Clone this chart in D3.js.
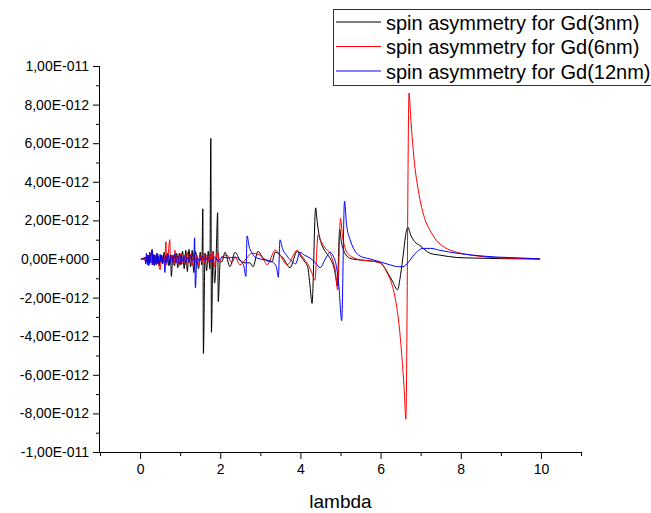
<!DOCTYPE html>
<html>
<head>
<meta charset="utf-8">
<script src="https://cdn.jsdelivr.net/npm/d3@7"></script>
<style>
  html, body { margin: 0; padding: 0; background: #fff; }
  svg { display: block; font-family: Arial, "Liberation Sans", sans-serif; }
</style>
</head>
<body>
<svg id="chart" width="651" height="513"></svg>
<script>
// ---- data (values in units of 1E-12) ----
const UNIT = 1e-12;
const seriesNames = ["spin asymmetry for Gd(3nm)", "spin asymmetry for Gd(6nm)", "spin asymmetry for Gd(12nm)"];
const seriesColors = ["#000000", "#ff0000", "#0000ff"];

const lambda3 = [0.02,0.10,0.14,0.17,0.20,0.23,0.26,0.30,0.32,0.36,0.40,0.44,0.48,0.52,0.56,0.60,0.64,0.68,0.72,0.76,0.78,0.82,0.86,0.90,0.94,0.98,1.02,1.06,1.10,1.14,1.18,1.22,1.26,1.30,1.34,1.38,1.42,1.46,1.50,1.54,1.565,1.58,1.62,1.66,1.70,1.74,1.765,1.78,1.82,1.86,1.90,1.935,1.95,2.00,2.04,2.12,2.24,2.37,2.49,2.62,2.74,2.82,2.94,3.07,3.29,3.37,3.57,3.74,3.92,4.02,4.11,4.18,4.24,4.29,4.38,4.42,4.47,4.54,4.65,4.75,4.83,4.88,4.92,4.98,5.02,5.08,5.16,5.30,5.49,5.74,5.99,6.10,6.20,6.31,6.42,6.50,6.57,6.63,6.68,6.75,6.85,6.98,7.23,7.48,7.90,8.30,9.00,9.98];
const asym3   = [0,0,0.1,-0.15,0.2,-0.25,0.15,0.45,-0.3,0.2,-0.3,0.25,-0.35,0.2,-0.25,0.35,-0.2,0.3,-0.35,0.25,-0.9,0.2,-0.35,0.3,-0.45,0.3,-0.3,0.4,-0.5,0.45,-0.65,0.5,-0.4,0.45,-0.7,0.4,0.0,-0.5,0.35,-0.3,2.6,-4.9,0.3,-0.6,0.4,-0.5,6.25,-3.8,0.4,-1.25,0.3,2.4,-2.2,-0.1,-0.15,0.35,-0.4,0.35,-0.05,-0.2,-0.2,-0.4,0.4,0.05,-0.15,0.35,0.05,-0.45,0.4,0.1,-0.15,-0.4,-1.4,-2.3,2.65,1.9,1.2,0.7,0.3,0.0,-0.4,-0.9,-1.4,1.55,0.9,0.45,0.15,0.0,-0.05,-0.1,-0.2,-0.45,-0.8,-1.2,-1.6,-0.8,0.3,1.3,1.65,1.25,0.9,0.7,0.3,0.2,0.08,0.05,0.02,0];

const lambda6 = [0.02,0.10,0.14,0.18,0.22,0.26,0.30,0.34,0.38,0.42,0.46,0.50,0.54,0.58,0.62,0.645,0.66,0.70,0.74,0.76,0.80,0.84,0.87,0.90,0.94,0.98,1.02,1.06,1.10,1.14,1.18,1.22,1.26,1.30,1.34,1.38,1.42,1.46,1.50,1.54,1.58,1.62,1.66,1.70,1.74,1.78,1.82,1.86,1.90,1.94,1.98,2.04,2.17,2.29,2.37,2.49,2.62,2.79,2.99,3.10,3.17,3.37,3.49,3.67,3.92,4.02,4.11,4.22,4.30,4.36,4.44,4.52,4.62,4.74,4.81,4.87,4.93,5.00,5.05,5.11,5.20,5.35,5.49,5.74,5.99,6.16,6.28,6.38,6.46,6.53,6.59,6.63,6.71,6.75,6.80,6.86,6.93,7.00,7.10,7.23,7.40,7.60,7.85,8.20,8.65,9.20,9.98];
const asym6   = [0,0.05,-0.15,0.2,-0.1,0.25,-0.3,0.15,-0.2,0.3,-0.25,-0.55,0.2,-0.2,0.1,0.9,-0.3,0.2,1.0,-0.2,0.15,-0.3,0.45,-0.2,0.25,-0.35,0.3,-0.25,0.2,-0.3,0.35,-0.2,0.25,-0.35,0.3,-0.15,0.2,-0.3,0.15,-0.2,0.3,-0.25,0.2,-0.15,0.25,-0.3,0.35,-0.4,0.1,0.35,-0.2,0.1,0.2,-0.2,0.1,-0.3,-0.05,0.3,0.2,-0.1,-0.3,0.45,0.2,-0.3,0.45,0.2,-0.05,-0.4,-0.8,-1.1,1.25,0.9,0.55,0.3,-0.1,-0.6,-1.6,2.1,1.2,0.6,0.25,0.05,-0.05,-0.1,-0.2,-0.7,-1.3,-2.2,-3.4,-5.0,-6.8,-8.3,8.6,7.4,6.0,4.7,3.7,2.9,2.1,1.5,0.95,0.6,0.38,0.22,0.1,0.04,0];

const lambda12 = [0.02,0.08,0.12,0.14,0.16,0.18,0.20,0.22,0.24,0.26,0.28,0.30,0.32,0.34,0.36,0.38,0.40,0.42,0.44,0.46,0.48,0.50,0.52,0.54,0.56,0.58,0.60,0.62,0.64,0.66,0.70,0.74,0.78,0.82,0.86,0.90,0.94,0.98,1.02,1.06,1.10,1.14,1.18,1.22,1.26,1.30,1.34,1.36,1.38,1.42,1.48,1.55,1.62,1.70,1.78,1.86,1.94,2.04,2.20,2.37,2.50,2.58,2.64,2.67,2.72,2.78,2.87,3.00,3.15,3.30,3.40,3.45,3.49,3.55,3.65,3.78,3.88,3.99,4.10,4.24,4.38,4.49,4.62,4.74,4.82,4.90,4.96,5.03,5.10,5.15,5.24,5.35,5.49,5.74,5.99,6.23,6.45,6.56,6.70,6.81,6.95,7.06,7.25,7.48,7.90,8.30,8.90,9.55,9.98];
const asym12   = [0,0,0.1,-0.25,0.3,-0.3,0.2,-0.35,0.35,-0.2,0.15,0.5,-0.3,0.25,-0.35,0.2,-0.2,0.3,-0.25,0.15,-0.3,0.25,-0.15,0.2,-0.25,0.15,-0.1,-0.7,0.2,-0.2,0.25,-0.3,0.2,-0.15,0.25,-0.2,0.15,-0.25,0.2,-0.1,0.15,-0.2,0.1,-0.15,0.2,-0.1,0.05,1.1,-1.5,0.1,-0.1,0.15,-0.1,0.1,-0.15,0.1,-0.1,0.1,0.05,0.1,-0.1,-0.3,-0.9,1.2,0.65,0.35,0.1,0.0,-0.05,-0.15,-0.4,-0.95,1.0,0.55,0.2,-0.1,-0.25,0.35,0.2,0.05,-0.2,-0.45,0.0,0.35,0.15,-0.4,-1.4,-3.2,3.0,1.8,1.0,0.45,0.15,0.0,-0.15,-0.3,-0.4,-0.4,-0.15,0.15,0.45,0.55,0.55,0.45,0.3,0.2,0.1,0.05,0];

const xTicks = [0, 2, 4, 6, 8, 10];
const xMinorTicks = [-1, 1, 3, 5, 7, 9, 11];
const yTicks = [-10, -8, -6, -4, -2, 0, 2, 4, 6, 8, 10];
const yMinorTicks = [-9, -7, -5, -3, -1, 1, 3, 5, 7, 9];
const yTickLabels = ["-1,00E-011","-8,00E-012","-6,00E-012","-4,00E-012","-2,00E-012","0,00E+000","2,00E-012","4,00E-012","6,00E-012","8,00E-012","1,00E-011"];
const xTitle = "lambda";

// ---- drawing ----
const svg = d3.select("#chart");
const plot = { left: 100, right: 581, top: 66, bottom: 452 };

const x = d3.scaleLinear().domain([-1, 11]).range([plot.left, plot.right]);
const y = d3.scaleLinear().domain([-10 * UNIT, 10 * UNIT]).range([plot.bottom, plot.top]);

const series = [
  { name: seriesNames[0], color: seriesColors[0], xs: lambda3, ys: asym3 },
  { name: seriesNames[1], color: seriesColors[1], xs: lambda6, ys: asym6 },
  { name: seriesNames[2], color: seriesColors[2], xs: lambda12, ys: asym12 }
];

const line = d3.line().curve(d3.curveMonotoneX).x(d => x(d[0])).y(d => y(d[1]));

series.forEach(s => {
  const pts = s.xs.map((l, i) => [l, s.ys[i] * UNIT]);
  svg.append("path")
    .datum(pts)
    .attr("fill", "none")
    .attr("stroke", s.color)
    .attr("stroke-width", 1)
    .attr("stroke-linejoin", "round")
    .attr("d", line);
});

// x axis
const xAxis = d3.axisBottom(x).tickValues(xTicks).tickSize(7).tickPadding(5).tickFormat(d3.format("d"));
const gx = svg.append("g").attr("transform", `translate(0,${plot.bottom})`).call(xAxis);
gx.selectAll("text").attr("font-size", 14).attr("font-family", "Arial, 'Liberation Sans', sans-serif").attr("fill", "#000");
gx.select(".domain").attr("d", `M${plot.left},0.5H${plot.right}`).attr("stroke", "#000");
const gxm = svg.append("g").attr("transform", `translate(0,${plot.bottom})`)
  .call(d3.axisBottom(x).tickValues(xMinorTicks).tickSize(4).tickFormat(""));
gxm.select(".domain").remove();

// y axis
const yAxis = d3.axisLeft(y).tickValues(yTicks.map(v => v * UNIT)).tickSize(7).tickPadding(4)
  .tickFormat((d, i) => yTickLabels[i]);
const gy = svg.append("g").attr("transform", `translate(${plot.left},0)`).call(yAxis);
gy.selectAll("text").attr("font-size", 14).attr("font-family", "Arial, 'Liberation Sans', sans-serif").attr("fill", "#000");
gy.select(".domain").attr("d", `M-0.5,${plot.top}V${plot.bottom}`).attr("stroke", "#000");
const gym = svg.append("g").attr("transform", `translate(${plot.left},0)`)
  .call(d3.axisLeft(y).tickValues(yMinorTicks.map(v => v * UNIT)).tickSize(4).tickFormat(""));
gym.select(".domain").remove();

// axis title
svg.append("text")
  .attr("x", (plot.left + plot.right) / 2)
  .attr("y", 508)
  .attr("text-anchor", "middle")
  .attr("font-size", 19)
  .attr("fill", "#000")
  .text(xTitle);

// legend
const lg = svg.append("g");
lg.append("rect").attr("x", 333.5).attr("y", 9.5).attr("width", 330).attr("height", 76)
  .attr("fill", "#fff").attr("stroke", "#333").attr("stroke-width", 1);
series.forEach((s, i) => {
  const cy = 22 + i * 24.5;
  lg.append("line").attr("x1", 336).attr("x2", 381).attr("y1", cy).attr("y2", cy)
    .attr("stroke", s.color).attr("stroke-width", 1);
  lg.append("text").attr("x", 386).attr("y", cy + 7.5).attr("font-size", 20).attr("fill", "#000").text(s.name);
});
</script>
</body>
</html>
